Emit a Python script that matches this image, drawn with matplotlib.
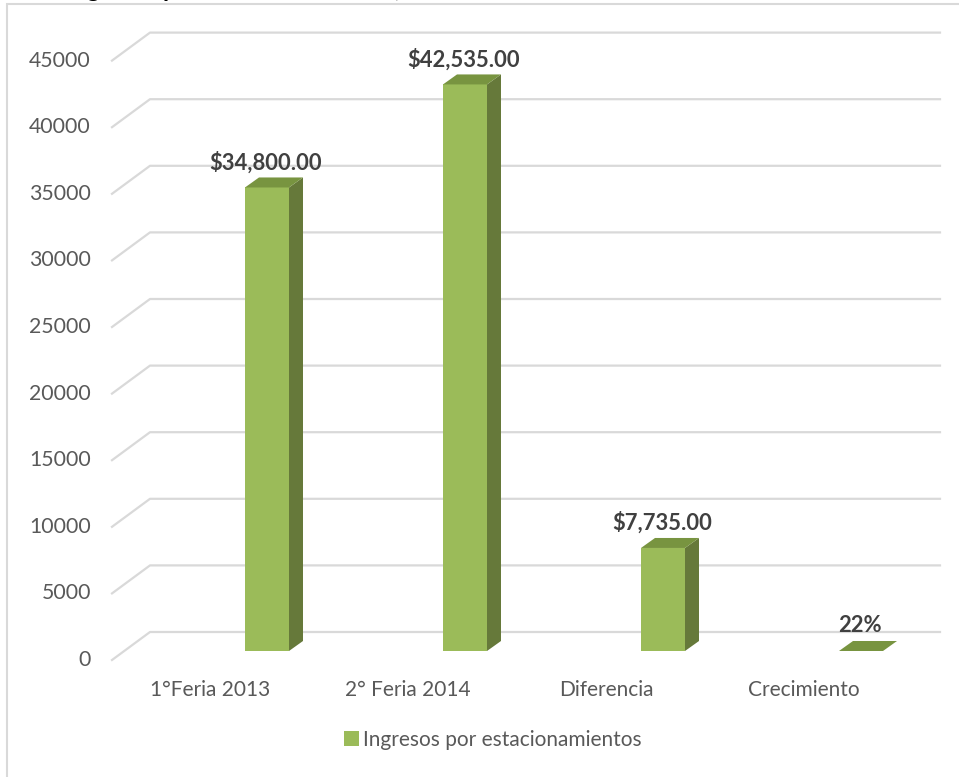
import matplotlib.pyplot as plt
from matplotlib.patches import Polygon, Rectangle, Patch

plt.rcParams['font.family'] = ['Lato', 'DejaVu Sans']

# data
categories = ['1°Feria 2013', '2° Feria 2014', 'Diferencia', 'Crecimiento']
values = [34800, 42535, 7735, 0.22]
labels = ['$34,800.00', '$42,535.00', '$7,735.00', '22%']
series_name = 'Ingresos por estacionamientos'
yticks = [0, 5000, 10000, 15000, 20000, 25000, 30000, 35000, 40000, 45000]

front_c = '#9BBB59'
side_c = '#66793A'
top_c = '#789440'
grid_c = '#D9D9D9'
txt_c = '#595959'

W, H = 959, 777
fig = plt.figure(figsize=(W / 100, H / 100), dpi=100)

# axes placed in pixels: the bar front plane
px_l, px_r, px_b, px_t = 112, 940, 660, 32
ax = fig.add_axes([px_l / W, 1 - px_b / H, (px_r - px_l) / W, (px_b - px_t) / H])
XS = 198.0      # px per category
YS = 0.01332    # px per value unit
x0 = 267        # pixel of first bar centre
v0 = 651        # pixel of value 0 on bar plane
xl = (px_l - x0) / XS
xr = (px_r - x0) / XS
ax.set_xlim(xl, xr)
ax.set_ylim((v0 - px_b) / YS, (v0 - px_t) / YS)
ax.axis('off')


def dx(p):
    return p / XS


def dv(p):
    return p / YS


# gridlines (floor-to-back-wall bend)
for v in yticks:
    ax.plot([xl, xl + dx(38), xr], [v - dv(9), v + dv(19), v + dv(19)],
            color=grid_c, lw=1.6, clip_on=False, zorder=1)
    ax.text(dx(91 - x0), v - dv(9), str(v), ha='right', va='center',
            fontsize=15.3, color=txt_c)

# bars with a fake 3D depth
bw = dx(44)
ox, oy = dx(14), dv(10)
for i, v in enumerate(values):
    left, right = i - bw / 2, i + bw / 2
    ax.add_patch(Rectangle((left, 0), bw, v, facecolor=front_c, edgecolor='none', zorder=3))
    ax.add_patch(Polygon([(right, 0), (right + ox, oy), (right + ox, v + oy), (right, v)],
                         closed=True, facecolor=side_c, edgecolor='none', zorder=3))
    ax.add_patch(Polygon([(left, v), (right, v), (right + ox, v + oy), (left + ox, v + oy)],
                         closed=True, facecolor=top_c, edgecolor='none', zorder=3))
    ax.text(i - dx(1), v + dv(25), labels[i], ha='center', va='center',
            fontsize=15.8, fontweight='bold', color='#404040', zorder=4)
    ax.text(i - dx(57), -dv(39), categories[i], ha='center', va='center',
            fontsize=15, color=txt_c)

# legend
fig.legend(handles=[Patch(facecolor=front_c, edgecolor='none', label=series_name)],
           loc='center', bbox_to_anchor=(493 / W, 1 - 740 / H), frameon=False,
           fontsize=15, labelcolor=txt_c, handlelength=0.7, handleheight=0.7,
           handletextpad=0.2)

# chart border and title (cut at the top edge, as in the original)
fig.add_artist(Rectangle((7 / W, -0.05), 1.0, 1.05 - 3.5 / H, transform=fig.transFigure,
                         facecolor='none', edgecolor='#D9D9D9', lw=1.5))
fig.text(66 / W, 1 + 3 / H, 'Ingresos por estacionamientos, 2013 - 2014', ha='left',
         va='baseline', fontsize=17.5, fontweight='bold', color='black')

fig.savefig('out.png', dpi=100)
